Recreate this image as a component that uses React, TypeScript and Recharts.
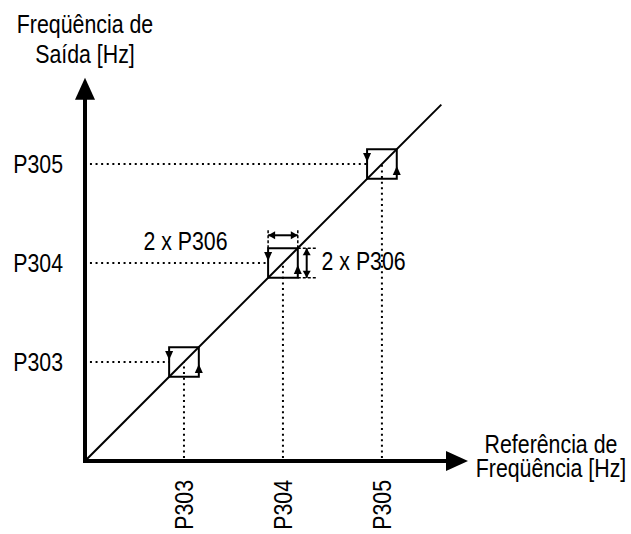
import { ComposedChart, XAxis, YAxis, ReferenceLine, ReferenceArea, Scatter } from 'recharts';

const FONT = "'Liberation Sans', Arial, sans-serif";
// narrow look: Liberation Sans squeezed horizontally
const SQUEEZE = 0.82;

// set points on the ramp
const levelNames = ['P303', 'P304', 'P305'];
const levelValues = [1, 2, 3];
// hysteresis band (P306) around each set point
const band = 0.15;
const diagonalEnd = 3.6;
const axisLineEnd = 3.7;
const axisTip = 3.87;
const dimLabel = '2 x P306';
const dimLevel = 2;
const dimOffsetY = 0.28;
const dimOffsetX = 0.24;
const extEnd = 0.34;

const nameOf = (v: number) => levelNames[levelValues.indexOf(v)] ?? '';

const axisArrows = [
  { x: 0, y: axisTip, dir: 'up' },
  { x: axisTip, y: 0, dir: 'right' },
];

const boxArrows = levelValues.flatMap((v) => [
  { x: v - band, y: v + 0.02, dir: 'down' },
  { x: v + band, y: v - 0.02, dir: 'up' },
]);

const dimArrows = [
  { x: dimLevel - band, y: dimLevel + dimOffsetY, dir: 'left' },
  { x: dimLevel + band, y: dimLevel + dimOffsetY, dir: 'right' },
  { x: dimLevel + dimOffsetX, y: dimLevel + band, dir: 'up' },
  { x: dimLevel + dimOffsetX, y: dimLevel - band, dir: 'down' },
];

const dimLabels = [
  { x: 1.44, y: 2.13, text: dimLabel, anchor: 'end' },
  { x: 2.39, y: 1.93, text: dimLabel, anchor: 'start' },
];

const arrowShape = (len: number, half: number) => (props: any) => {
  const { cx, cy, payload } = props;
  let pts: number[][];
  switch (payload.dir) {
    case 'up':
      pts = [[cx, cy], [cx - half, cy + len], [cx + half, cy + len]];
      break;
    case 'down':
      pts = [[cx, cy], [cx - half, cy - len], [cx + half, cy - len]];
      break;
    case 'left':
      pts = [[cx, cy], [cx + len, cy - half], [cx + len, cy + half]];
      break;
    default:
      pts = [[cx, cy], [cx - len, cy - half], [cx - len, cy + half]];
  }
  return <polygon points={pts.map((p) => p.join(',')).join(' ')} fill="#000" />;
};

const NarrowText = ({ x, y, anchor, dy, rotate, children }: any) => (
  <text
    transform={`translate(${x},${y})${rotate ? ` rotate(${rotate})` : ''} scale(${SQUEEZE},1)`}
    textAnchor={anchor}
    dy={dy}
    fontSize={26}
    fontFamily={FONT}
    fill="#000"
  >
    {children}
  </text>
);

const labelShape = (props: any) => {
  const { cx, cy, payload } = props;
  return (
    <NarrowText x={cx} y={cy} anchor={payload.anchor}>
      {payload.text}
    </NarrowText>
  );
};

const XTick = (props: any) => {
  const { x, y, payload } = props;
  return (
    <NarrowText x={x} y={y} anchor="end" dy="0.355em" rotate={-90}>
      {nameOf(payload.value)}
    </NarrowText>
  );
};

const YTick = (props: any) => {
  const { x, y, payload } = props;
  return (
    <NarrowText x={x} y={y} anchor="end" dy="0.355em">
      {nameOf(payload.value)}
    </NarrowText>
  );
};

const dotted = { stroke: '#000', strokeWidth: 2, strokeDasharray: '2 3.6' };
const ext = { stroke: '#000', strokeWidth: 1.5, strokeDasharray: '3 2' };

const titleStyle = {
  position: 'absolute' as const,
  width: 240,
  textAlign: 'center' as const,
  fontSize: 26,
  transform: `scaleX(${SQUEEZE})`,
  transformOrigin: 'center',
};

export default function App() {
  return (
    <div
      style={{
        position: 'absolute',
        left: 0,
        top: 0,
        width: 631,
        height: 534,
        overflow: 'hidden',
        background: '#fff',
        fontFamily: FONT,
        color: '#000',
      }}
    >
      <div style={{ ...titleStyle, left: 85 - 120, top: 9, lineHeight: '30px' }}>
        Freqüência de
        <br />
        Saída [Hz]
      </div>
      <div style={{ ...titleStyle, left: 551 - 120, top: 432, lineHeight: '24px' }}>
        Referência de
        <br />
        Freqüência [Hz]
      </div>

      <ComposedChart width={631} height={534} margin={{ top: 65, right: 160, left: 25, bottom: 13 }}>
        <XAxis
          type="number"
          dataKey="x"
          domain={[0, 3.9]}
          ticks={levelValues}
          tick={(p: any) => <XTick {...p} />}
          axisLine={false}
          tickLine={false}
          tickSize={0}
          tickMargin={19}
          height={60}
          interval={0}
        />
        <YAxis
          type="number"
          dataKey="y"
          domain={[0, 4]}
          ticks={levelValues}
          tick={(p: any) => <YTick {...p} />}
          axisLine={false}
          tickLine={false}
          tickSize={0}
          tickMargin={22}
          width={60}
          interval={0}
        />

        {/* hysteresis boxes */}
        {levelValues.map((v) => (
          <ReferenceArea
            key={`box-${v}`}
            x1={v - band}
            x2={v + band}
            y1={v - band}
            y2={v + band}
            fill="none"
            stroke="#000"
            strokeWidth={2}
            ifOverflow="visible"
          />
        ))}

        {/* dotted guides */}
        {levelValues.map((v) => (
          <ReferenceLine
            key={`h-${v}`}
            segment={[{ x: 0.05, y: v }, { x: v - band, y: v }]}
            {...dotted}
            ifOverflow="visible"
          />
        ))}
        {levelValues.map((v) => (
          <ReferenceLine
            key={`v-${v}`}
            segment={[{ x: v, y: 0.03 }, { x: v, y: v }]}
            {...dotted}
            ifOverflow="visible"
          />
        ))}

        {/* ramp */}
        <ReferenceLine
          segment={[{ x: 0, y: 0 }, { x: diagonalEnd, y: diagonalEnd }]}
          stroke="#000"
          strokeWidth={2}
          ifOverflow="visible"
        />

        {/* dimension marks for P306 */}
        <ReferenceLine segment={[{ x: dimLevel - band, y: dimLevel + band }, { x: dimLevel - band, y: dimLevel + extEnd }]} {...ext} ifOverflow="visible" />
        <ReferenceLine segment={[{ x: dimLevel + band, y: dimLevel + band }, { x: dimLevel + band, y: dimLevel + extEnd }]} {...ext} ifOverflow="visible" />
        <ReferenceLine segment={[{ x: dimLevel + band, y: dimLevel + band }, { x: dimLevel + extEnd, y: dimLevel + band }]} {...ext} ifOverflow="visible" />
        <ReferenceLine segment={[{ x: dimLevel + band, y: dimLevel - band }, { x: dimLevel + extEnd, y: dimLevel - band }]} {...ext} ifOverflow="visible" />
        <ReferenceLine
          segment={[{ x: dimLevel - band, y: dimLevel + dimOffsetY }, { x: dimLevel + band, y: dimLevel + dimOffsetY }]}
          stroke="#000"
          strokeWidth={2}
          ifOverflow="visible"
        />
        <ReferenceLine
          segment={[{ x: dimLevel + dimOffsetX, y: dimLevel - band }, { x: dimLevel + dimOffsetX, y: dimLevel + band }]}
          stroke="#000"
          strokeWidth={2}
          ifOverflow="visible"
        />

        {/* axes */}
        <ReferenceLine segment={[{ x: 0, y: -0.02 }, { x: 0, y: axisLineEnd }]} stroke="#000" strokeWidth={4} ifOverflow="visible" />
        <ReferenceLine segment={[{ x: -0.02, y: 0 }, { x: axisLineEnd, y: 0 }]} stroke="#000" strokeWidth={4} ifOverflow="visible" />

        <Scatter data={axisArrows} shape={arrowShape(22, 10)} isAnimationActive={false} />
        <Scatter data={boxArrows} shape={arrowShape(9, 4)} isAnimationActive={false} />
        <Scatter data={dimArrows} shape={arrowShape(7, 4)} isAnimationActive={false} />
        <Scatter data={dimLabels} shape={labelShape} isAnimationActive={false} />
      </ComposedChart>
    </div>
  );
}
